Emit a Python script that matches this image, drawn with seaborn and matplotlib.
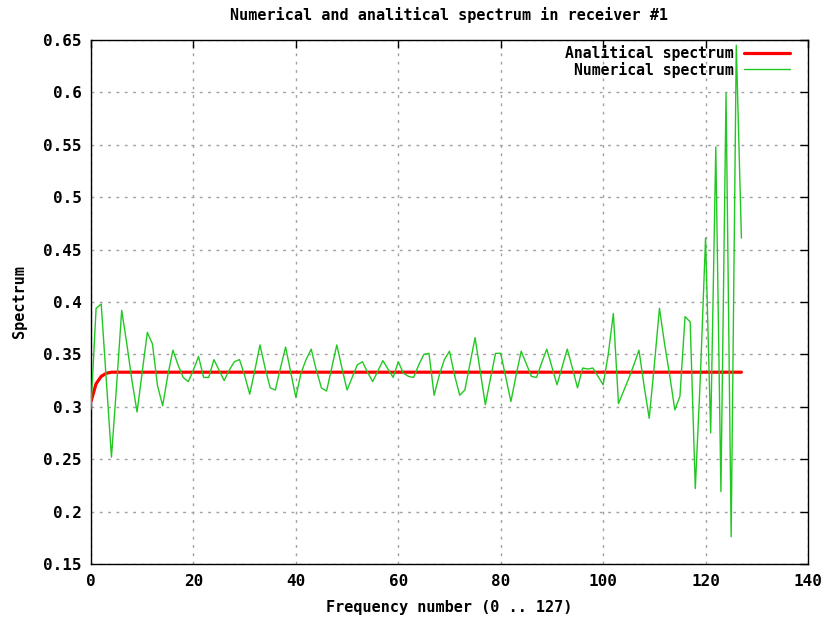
import numpy as np
import pandas as pd
import matplotlib
matplotlib.use("Agg")
import matplotlib.pyplot as plt
import seaborn as sns

# Frequency numbers 0 .. 127
freq = list(range(128))

# Numerical spectrum in receiver #1
numerical = [
    0.298, 0.394, 0.398, 0.325, 0.252, 0.320, 0.392, 0.360, 0.325, 0.295,
    0.333, 0.371, 0.360, 0.320, 0.301, 0.330, 0.354, 0.340, 0.328, 0.324,
    0.335, 0.348, 0.328, 0.328, 0.345, 0.335, 0.325, 0.335, 0.343, 0.345,
    0.330, 0.312, 0.335, 0.359, 0.337, 0.318, 0.316, 0.337, 0.357, 0.333,
    0.309, 0.332, 0.345, 0.355, 0.335, 0.318, 0.315, 0.337, 0.359, 0.337,
    0.316, 0.328, 0.340, 0.343, 0.333, 0.324, 0.334, 0.344, 0.336, 0.328,
    0.343, 0.332, 0.329, 0.328, 0.340, 0.350, 0.351, 0.311, 0.330, 0.345,
    0.353, 0.330, 0.311, 0.316, 0.341, 0.366, 0.334, 0.302, 0.327, 0.351,
    0.351, 0.328, 0.305, 0.330, 0.353, 0.341, 0.329, 0.328, 0.342, 0.355,
    0.338, 0.321, 0.338, 0.355, 0.337, 0.318, 0.337, 0.336, 0.337, 0.329,
    0.321, 0.350, 0.389, 0.303, 0.315, 0.327, 0.340, 0.354, 0.320, 0.289,
    0.340, 0.394, 0.360, 0.330, 0.297, 0.310, 0.386, 0.381, 0.222, 0.330,
    0.461, 0.275, 0.548, 0.219, 0.599, 0.176, 0.645, 0.461,
]

# Analytical spectrum in receiver #1
analytical = [
    0.305, 0.322, 0.329, 0.332, 0.333, 0.333, 0.333, 0.333, 0.333, 0.333,
    0.333, 0.333, 0.333, 0.333, 0.333, 0.333, 0.333, 0.333, 0.333, 0.333,
    0.333, 0.333, 0.333, 0.333, 0.333, 0.333, 0.333, 0.333, 0.333, 0.333,
    0.333, 0.333, 0.333, 0.333, 0.333, 0.333, 0.333, 0.333, 0.333, 0.333,
    0.333, 0.333, 0.333, 0.333, 0.333, 0.333, 0.333, 0.333, 0.333, 0.333,
    0.333, 0.333, 0.333, 0.333, 0.333, 0.333, 0.333, 0.333, 0.333, 0.333,
    0.333, 0.333, 0.333, 0.333, 0.333, 0.333, 0.333, 0.333, 0.333, 0.333,
    0.333, 0.333, 0.333, 0.333, 0.333, 0.333, 0.333, 0.333, 0.333, 0.333,
    0.333, 0.333, 0.333, 0.333, 0.333, 0.333, 0.333, 0.333, 0.333, 0.333,
    0.333, 0.333, 0.333, 0.333, 0.333, 0.333, 0.333, 0.333, 0.333, 0.333,
    0.333, 0.333, 0.333, 0.333, 0.333, 0.333, 0.333, 0.333, 0.333, 0.333,
    0.333, 0.333, 0.333, 0.333, 0.333, 0.333, 0.333, 0.333, 0.333, 0.333,
    0.333, 0.333, 0.333, 0.333, 0.333, 0.333, 0.333, 0.333,
]

x_ticks = [0, 20, 40, 60, 80, 100, 120, 140]
y_ticks = [0.15, 0.2, 0.25, 0.3, 0.35, 0.4, 0.45, 0.5, 0.55, 0.6, 0.65]
y_tick_labels = ["0.15", "0.2", "0.25", "0.3", "0.35", "0.4", "0.45",
                 "0.5", "0.55", "0.6", "0.65"]

sns.set_style("white")
plt.rcParams["font.family"] = ["DejaVu Sans Mono", "DejaVu Sans"]
plt.rcParams["font.weight"] = "bold"
plt.rcParams["text.color"] = "black"
plt.rcParams["axes.labelcolor"] = "black"

df = pd.DataFrame({"freq": freq, "numerical": numerical, "analytical": analytical})

fig = plt.figure(figsize=(8.27, 6.19), dpi=100)
ax = fig.add_axes([0.110, 0.0889, 0.867, 0.8465])

sns.lineplot(data=df, x="freq", y="analytical", ax=ax, color="#ff0000",
             linewidth=2.3, label="Analitical spectrum", zorder=3)
sns.lineplot(data=df, x="freq", y="numerical", ax=ax, color="#22c822",
             linewidth=1.0, label="Numerical spectrum", zorder=4)

ax.set_xlim(0, 140)
ax.set_ylim(0.15, 0.65)
ax.set_xticks(x_ticks)
ax.set_xticklabels([str(t) for t in x_ticks])
ax.set_yticks(y_ticks)
ax.set_yticklabels(y_tick_labels)

ax.grid(True, color="#a0a0a0", linestyle=(0, (2, 4)), linewidth=1.0)
ax.set_axisbelow(True)
for s in ax.spines.values():
    s.set_color("black")
    s.set_linewidth(1.0)
    s.set_visible(True)

ax.tick_params(direction="in", length=6, width=1, top=True, right=True,
               labelsize=11.5, colors="black")
ax.tick_params(axis="y", pad=6.5)
ax.tick_params(axis="x", pad=7)
for lab in ax.get_xticklabels() + ax.get_yticklabels():
    lab.set_fontweight("bold")

ax.set_title("Numerical and analitical spectrum in receiver #1",
             fontsize=10.9, fontweight="bold", pad=14.5, color="black")
ax.set_xlabel("Frequency number (0 .. 127)", fontsize=10.9, fontweight="bold",
              labelpad=8, color="black")
ax.set_ylabel("Spectrum", fontsize=10.9, fontweight="bold", labelpad=12,
              color="black")

leg = ax.legend(loc="upper right", bbox_to_anchor=(0.975, 0.99),
                frameon=False, markerfirst=False,
                handlelength=3.1, borderaxespad=0.0, borderpad=0.0,
                labelspacing=0.02, handletextpad=0.75,
                prop={"weight": "bold", "size": 10.6})
for t in leg.get_texts():
    t.set_color("black")

fig.savefig("out.png", dpi=100)
